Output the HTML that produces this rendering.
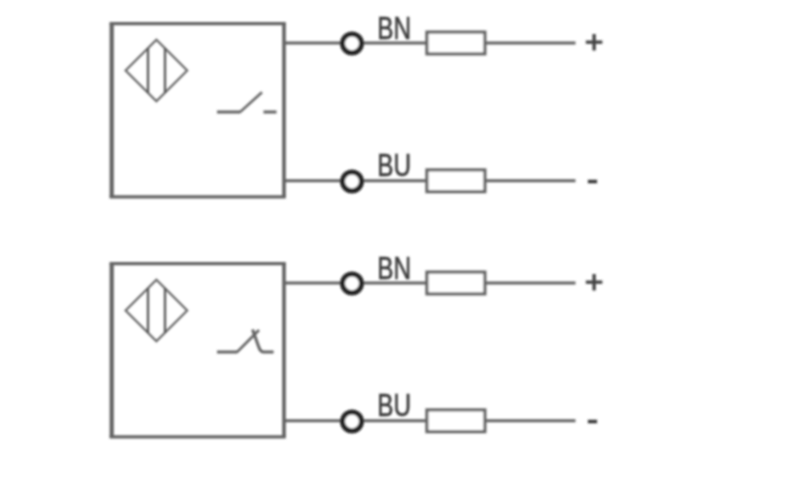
<!DOCTYPE html>
<html><head><meta charset="utf-8"><title>Wiring diagram</title>
<style>
html,body{margin:0;padding:0;background:#fff;}
body{width:800px;height:500px;overflow:hidden;font-family:"Liberation Sans",sans-serif;}
svg{display:block;}
text{font-family:"Liberation Sans",sans-serif;}
</style></head><body>
<svg width="800" height="500" viewBox="0 0 800 500">
<defs><filter id="b" x="0" y="0" width="800" height="500" filterUnits="userSpaceOnUse"><feGaussianBlur stdDeviation="1.1"/></filter></defs>
<rect width="800" height="500" fill="#fff"/>
<g filter="url(#b)">
<g transform="translate(0,0)">
<path d="M109.6 23.6 H285.8 M109.6 196.9 H285.8" fill="none" stroke="#646464" stroke-width="3.1"/>
<path d="M111.7 23.6 V196.9" fill="none" stroke="#646464" stroke-width="4.2"/>
<path d="M284 23.6 V196.9" fill="none" stroke="#646464" stroke-width="3.7"/>
<path d="M125.6 70.5 L156.4 39.7 L187.2 70.5 L156.4 101.3 Z" fill="none" stroke="#646464" stroke-width="2.1"/><path d="M148 48 V93 M165 48 V93" fill="none" stroke="#555" stroke-width="2.3"/>
<path d="M217 112.1 H240.5 M263.5 112.1 H276.5" fill="none" stroke="#646464" stroke-width="3.0"/><path d="M240 112.1 L262 92.2" fill="none" stroke="#646464" stroke-width="2.5"/>
<path d="M284 43.0 H342 M362 43.0 H427 M485 43.0 H575.5" fill="none" stroke="#646464" stroke-width="3.1"/>
<circle cx="352" cy="43.4" r="9.5" fill="#fff" stroke="#262626" stroke-width="5.0"/>
<rect x="426.9" y="32.10" width="58" height="21.8" fill="#fff" stroke="#646464" stroke-width="3.1"/>
<text transform="translate(377.2,38.50) scale(0.785,1)" font-size="31" fill="#3a3a3a" stroke="#3a3a3a" stroke-width="0.55">BN</text>
<text transform="translate(594.2,53.20) scale(1,1)" font-size="32" text-anchor="middle" fill="#454545" stroke="#454545" stroke-width="1.0">+</text>
<path d="M284 180.8 H342 M362 180.8 H427 M485 180.8 H575.5" fill="none" stroke="#646464" stroke-width="3.1"/>
<circle cx="352" cy="181.4" r="9.5" fill="#fff" stroke="#262626" stroke-width="5.0"/>
<rect x="426.9" y="169.90" width="58" height="21.8" fill="#fff" stroke="#646464" stroke-width="3.1"/>
<text transform="translate(377.2,176.30) scale(0.785,1)" font-size="31" fill="#3a3a3a" stroke="#3a3a3a" stroke-width="0.55">BU</text>
<text transform="translate(592.4,191.20) scale(1,1)" font-size="36" text-anchor="middle" fill="#333" stroke="#333" stroke-width="0.5">-</text>
</g>
<g transform="translate(0,240)">
<path d="M109.6 23.6 H285.8 M109.6 196.9 H285.8" fill="none" stroke="#646464" stroke-width="3.1"/>
<path d="M111.7 23.6 V196.9" fill="none" stroke="#646464" stroke-width="4.2"/>
<path d="M284 23.6 V196.9" fill="none" stroke="#646464" stroke-width="3.7"/>
<path d="M125.6 70.5 L156.4 39.7 L187.2 70.5 L156.4 101.3 Z" fill="none" stroke="#646464" stroke-width="2.1"/><path d="M148 48 V93 M165 48 V93" fill="none" stroke="#555" stroke-width="2.3"/>
<path d="M217 112.1 H237.5 M252.5 89.4 L258.7 106.8 Q260.3 112.1 264 112.1 H273.6" fill="none" stroke="#646464" stroke-width="3.0"/><path d="M237 112.1 L259 90" fill="none" stroke="#646464" stroke-width="2.6"/>
<path d="M284 43.0 H342 M362 43.0 H427 M485 43.0 H575.5" fill="none" stroke="#646464" stroke-width="3.1"/>
<circle cx="352" cy="43.4" r="9.5" fill="#fff" stroke="#262626" stroke-width="5.0"/>
<rect x="426.9" y="32.10" width="58" height="21.8" fill="#fff" stroke="#646464" stroke-width="3.1"/>
<text transform="translate(377.2,38.50) scale(0.785,1)" font-size="31" fill="#3a3a3a" stroke="#3a3a3a" stroke-width="0.55">BN</text>
<text transform="translate(594.2,53.20) scale(1,1)" font-size="32" text-anchor="middle" fill="#454545" stroke="#454545" stroke-width="1.0">+</text>
<path d="M284 180.8 H342 M362 180.8 H427 M485 180.8 H575.5" fill="none" stroke="#646464" stroke-width="3.1"/>
<circle cx="352" cy="181.4" r="9.5" fill="#fff" stroke="#262626" stroke-width="5.0"/>
<rect x="426.9" y="169.90" width="58" height="21.8" fill="#fff" stroke="#646464" stroke-width="3.1"/>
<text transform="translate(377.2,176.30) scale(0.785,1)" font-size="31" fill="#3a3a3a" stroke="#3a3a3a" stroke-width="0.55">BU</text>
<text transform="translate(592.4,191.20) scale(1,1)" font-size="36" text-anchor="middle" fill="#333" stroke="#333" stroke-width="0.5">-</text>
</g>
</g>
</svg>
</body></html>
